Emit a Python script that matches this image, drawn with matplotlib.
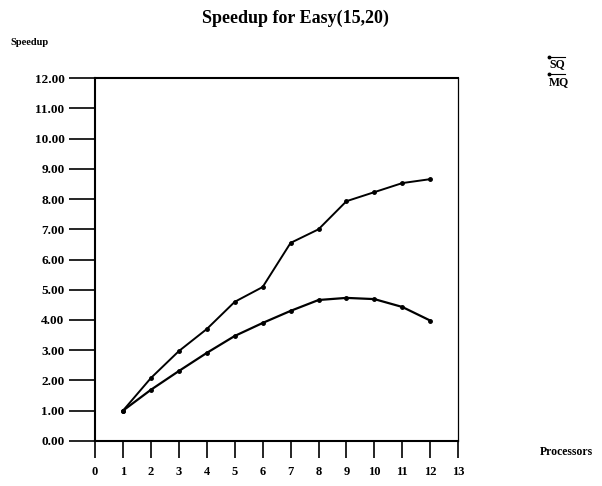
import matplotlib
matplotlib.use("Agg")
from matplotlib import pyplot as plt
from matplotlib.lines import Line2D

plt.rcParams['font.family'] = ['Liberation Serif', 'DejaVu Serif']
plt.rcParams['font.weight'] = 'bold'

processors = [1, 2, 3, 4, 5, 6, 7, 8, 9, 10, 11, 12]
speedup_sq = [1.00, 2.08, 2.97, 3.70, 4.60, 5.09, 6.55, 7.00, 7.93, 8.23, 8.53, 8.66]
speedup_mq = [1.00, 1.69, 2.31, 2.91, 3.47, 3.90, 4.30, 4.66, 4.73, 4.69, 4.43, 3.98]
series_names = ["SQ", "MQ"]

xticks = list(range(0, 14))
yticks = list(range(0, 13))

fig = plt.figure(figsize=(6.02, 4.86), dpi=100)
ax = fig.add_axes([0.158, 0.093, 0.603, 0.746])

ax.plot(processors, speedup_sq, '-o', color='black', lw=1.4, ms=2.5)
ax.plot(processors, speedup_mq, '-o', color='black', lw=1.6, ms=2.5)

ax.set_xlim(0, 13)
ax.set_ylim(0, 12)
ax.set_xticks(xticks)
ax.set_xticklabels([str(t) for t in xticks])
ax.set_yticks(yticks)
ax.set_yticklabels(["%.2f" % t for t in yticks])
ax.tick_params(axis='y', direction='out', length=19, width=1.2, labelsize=9.5, pad=3)
ax.tick_params(axis='x', direction='out', length=12, width=1.2, labelsize=9, pad=6)

for side in ['left', 'bottom', 'top']:
    ax.spines[side].set_linewidth(1.5)
ax.spines['right'].set_linewidth(0.9)

fig.text(0.49, 0.962, "Speedup for Easy(15,20)", ha='center', va='center',
         fontsize=13, fontweight='bold')
fig.text(0.018, 0.912, "Speedup", ha='left', va='center', fontsize=7.5)
fig.text(0.896, 0.070, "Processors", ha='left', va='center', fontsize=8.5)

# legend entries: short line with a marker over each label
for i, name in enumerate(series_names):
    ty = 0.868 - i * 0.036
    fig.text(0.912, ty, name, ha='left', va='center', fontsize=8.5)
    fig.add_artist(Line2D([0.912, 0.938], [ty + 0.015, ty + 0.015],
                          color='black', lw=0.8, marker='o', ms=1.8,
                          markevery=[0], transform=fig.transFigure))

fig.savefig("out.png", dpi=100)
